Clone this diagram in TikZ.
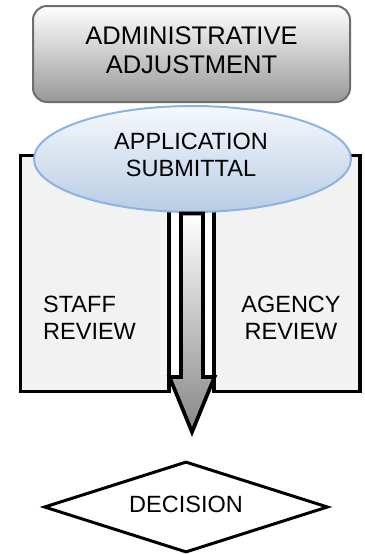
\documentclass[tikz,border=0pt]{standalone}
\usepackage{fontspec}
\setmainfont{Liberation Sans}
\usetikzlibrary{shapes.geometric}
\definecolor{topgray}{RGB}{152,152,152}
\definecolor{rimgray}{RGB}{110,110,110}
\definecolor{ellblue}{RGB}{184,204,228}
\definecolor{ellrim}{RGB}{141,179,226}
\definecolor{boxfill}{RGB}{242,242,242}
\definecolor{arrowgray}{RGB}{135,135,135}
\tikzset{
  bigtxt/.style={inner sep=0pt, align=center, font=\fontsize{25.5}{29}\selectfont},
  txt/.style={inner sep=0pt, font=\fontsize{23.5}{27}\selectfont},
  reviewbox/.style={draw=black, line width=3.3pt, fill=boxfill},
}
\begin{document}
\begin{tikzpicture}[x=1pt, y=-1pt]
\useasboundingbox (0,0) rectangle (364,554);
% top rounded box
\node[draw=rimgray, line width=2pt, rounded corners=14pt, top color=white, bottom color=topgray,
      minimum width=317pt, minimum height=96pt, inner sep=0pt] (admin) at (191.5,54) {};
% review boxes
\draw[reviewbox] (20.5,155.5) rectangle (169,391.5);
\draw[reviewbox] (214,155.5) rectangle (360,391.5);
% ellipse
\node[ellipse, draw=ellrim, line width=2pt, top color={rgb,255:red,246;green,249;blue,253}, bottom color=ellblue,
      minimum width=317pt, minimum height=106pt, inner sep=0pt] (app) at (192.5,159) {};
% block arrow
\draw[line width=3.7pt, line join=miter, top color=white, bottom color=arrowgray]
  (181,213.5) -- (203,213.5) -- (203,377) -- (214.5,377) -- (192,432) -- (169.5,377) -- (181,377) -- cycle;
% decision diamond
\node[diamond, draw=black, line width=3pt, fill=white, minimum width=284pt, minimum height=91pt, inner sep=0pt] (dec) at (186,507) {};
% texts
\node[bigtxt] (admintxt) at (191.5,50.4) {ADMINISTRATIVE\\ADJUSTMENT};
\node[txt, align=center] (apptxt) at (191,155.1) {APPLICATION\\SUBMITTAL};
\node[txt, align=left, anchor=west] (staff) at (43,318.1) {STAFF\\REVIEW};
\node[txt, align=center] (agency) at (291,318.1) {AGENCY\\REVIEW};
\node[txt] (dectxt) at (186,504.6) {DECISION};
\end{tikzpicture}
\end{document}
